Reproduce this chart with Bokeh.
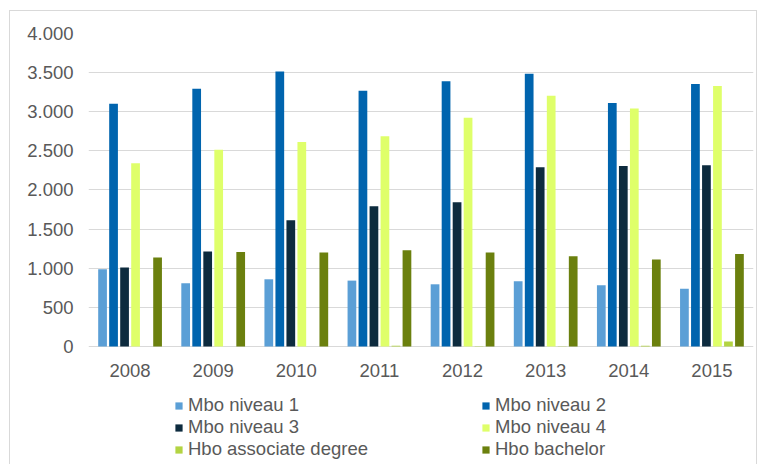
from bokeh.plotting import figure
from bokeh.models import FixedTicker, Legend, LegendItem, ColumnDataSource
from bokeh.core.properties import value
from bokeh.transform import dodge
from bokeh.embed import file_html
from bokeh.resources import INLINE

years = ["2008", "2009", "2010", "2011", "2012", "2013", "2014", "2015"]
series_names = ["Mbo niveau 1", "Mbo niveau 2", "Mbo niveau 3", "Mbo niveau 4",
                "Hbo associate degree", "Hbo bachelor"]
mbo1 = [987, 808, 859, 842, 795, 833, 782, 739]
mbo2 = [3103, 3295, 3513, 3269, 3389, 3487, 3111, 3355]
mbo3 = [1009, 1214, 1615, 1791, 1842, 2291, 2308, 2316]
mbo4 = [2342, 2513, 2615, 2688, 2923, 3205, 3043, 3329]
hbo_ad = [0, 0, 0, 10, 4, 4, 8, 64]
hbo_ba = [1137, 1209, 1201, 1231, 1201, 1154, 1111, 1183]
colors = ["#5B9FD6", "#0064AE", "#0D2B3E", "#DFFF6A", "#B3D442", "#6B800E"]
y_ticks = [0, 500, 1000, 1500, 2000, 2500, 3000, 3500, 4000]
y_tick_labels = ["0", "500", "1.000", "1.500", "2.000", "2.500", "3.000", "3.500", "4.000"]

src = ColumnDataSource(dict(year=years, s0=mbo1, s1=mbo2, s2=mbo3, s3=mbo4, s4=hbo_ad, s5=hbo_ba))

FONT = "Liberation Sans"
TXT = "#595959"
FS = "18.5px"

# y range extends below zero so that the category labels and legend sit inside the frame
p = figure(x_range=years, y_range=(-1508, 4000), width=746, height=453,
           output_backend="svg", toolbar_location=None,
           min_border_left=78, min_border_right=3, min_border_top=22, min_border_bottom=0)
p.outline_line_color = None
p.background_fill_color = "white"
p.border_fill_color = "white"
p.styles = {"margin-left": "10px", "margin-top": "11px",
            "outline": "1px solid #D9D9D9"}

step = 0.1324
items = []
for i in range(6):
    off = (i - 2.5) * step
    r = p.vbar(x=dodge("year", off, range=p.x_range), top="s%d" % i, width=0.105,
               source=src, fill_color=colors[i], line_color=None)
    items.append(LegendItem(label=series_names[i], renderers=[r]))

# category labels
p.text(x=years, y=[-307] * len(years), text=years, text_align="center",
       text_baseline="middle", text_font=value(FONT), text_font_size=value(FS),
       text_color=TXT)

p.xaxis.visible = False
p.xgrid.grid_line_color = None
p.ygrid.grid_line_color = "#D9D9D9"
p.ygrid.grid_line_width = 1
p.yaxis.ticker = FixedTicker(ticks=y_ticks)
p.yaxis.major_label_overrides = {t: l for t, l in zip(y_ticks, y_tick_labels)}
p.yaxis.axis_line_color = None
p.yaxis.major_tick_line_color = None
p.yaxis.minor_tick_line_color = None
p.yaxis.major_tick_out = 0
p.yaxis.major_tick_in = 0
p.yaxis.major_label_text_font = FONT
p.yaxis.major_label_text_font_size = FS
p.yaxis.major_label_text_color = TXT
p.yaxis.major_label_standoff = 15

# legend filled column by column: reorder so rows read Mbo1|Mbo2, Mbo3|Mbo4, AD|Bachelor
legend_items = [items[0], items[2], items[4], items[1], items[3], items[5]]
legend = Legend(items=legend_items, ncols=2, location=(86, 4),
                label_text_font=FONT, label_text_font_size=FS, label_text_color=TXT,
                glyph_width=9, glyph_height=9, label_standoff=5, label_width=293,
                label_height=18, spacing=0, padding=0, margin=0,
                border_line_color=None, background_fill_alpha=0)
p.add_layout(legend)

open("out.html", "w").write(file_html(p, INLINE))
